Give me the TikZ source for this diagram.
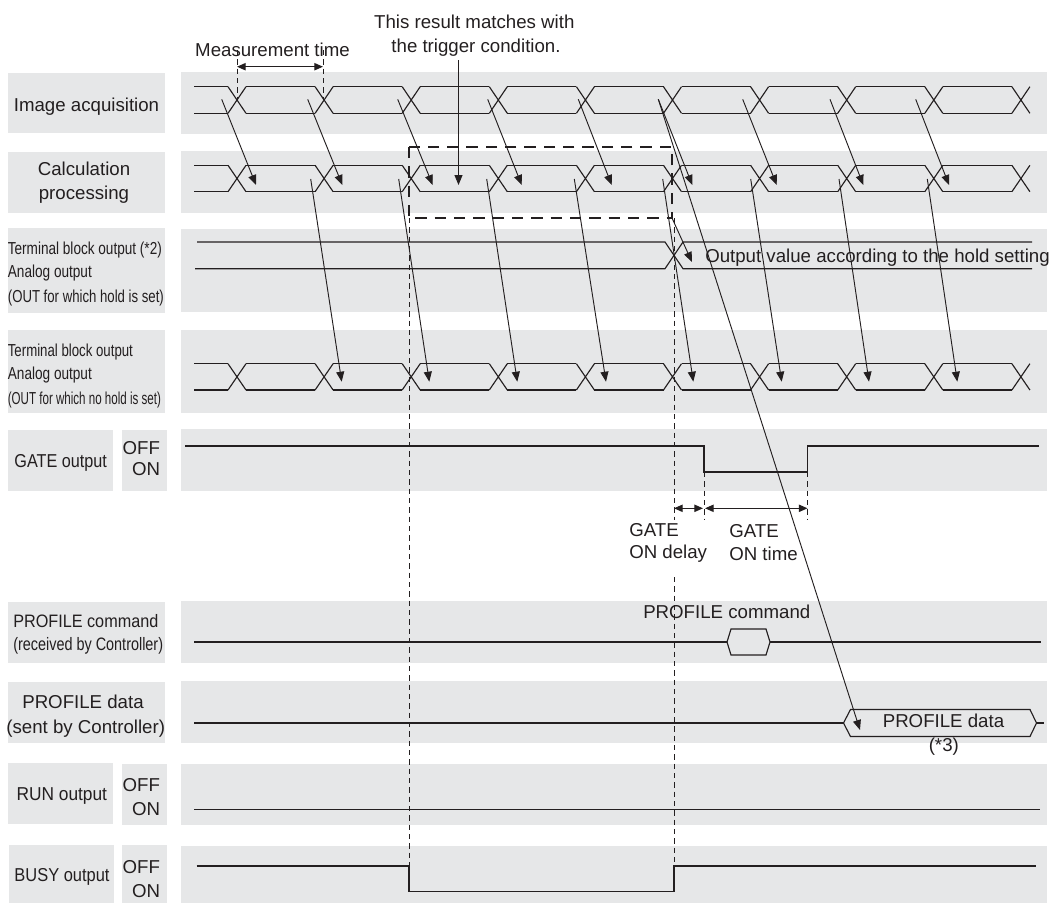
\documentclass[tikz,border=0pt]{standalone}
\usepackage{fontspec}
\setmainfont{Liberation Sans}
\usetikzlibrary{arrows.meta}
\definecolor{bandgray}{RGB}{230,231,232}
\definecolor{ink}{RGB}{35,31,32}
\newcommand{\fitw}[2]{\resizebox{#1}{\height}{#2}}
\newcommand{\xrow}[2]{%
  \draw[sig] (194,#1) -- (228,#1) (194,#2) -- (228,#2);
  \foreach \k in {0,...,9}{%
    \pgfmathsetmacro\cc{237+87.1*\k}
    \draw[sig] (\cc-9,#1) -- (\cc+9,#2) (\cc-9,#2) -- (\cc+9,#1);
  }
  \foreach \k in {0,...,8}{%
    \pgfmathsetmacro\cc{237+87.1*\k}
    \pgfmathsetmacro\cn{237+87.1*(\k+1)}
    \draw[sig] (\cc+9,#1) -- (\cn-9,#1) (\cc+9,#2) -- (\cn-9,#2);
  }}
\begin{document}
\begin{tikzpicture}[x=0.75pt,y=-0.75pt,
  band/.style={fill=bandgray,draw=none},
  sig/.style={draw=ink,line width=0.85pt},
  arr/.style={draw=ink,line width=0.7pt,-{Triangle[length=7.5pt,width=6pt]}},
  darr/.style={draw=ink,line width=0.85pt,{Triangle[length=6.5pt,width=5.5pt]}-{Triangle[length=6.5pt,width=5.5pt]}},
  boxdash/.style={draw=ink,line width=1.4pt,dash pattern=on 8.5pt off 6pt},
  thindash/.style={draw=ink,line width=0.7pt,dash pattern=on 4pt off 3pt},
  txt/.style={font=\fontsize{14pt}{17pt}\selectfont,text=ink,inner sep=0pt},
  midtxt/.style={font=\fontsize{13.5pt}{16pt}\selectfont,text=ink,inner sep=0pt},
  smalltxt/.style={font=\fontsize{13pt}{15pt}\selectfont,text=ink,inner sep=0pt},
]
\useasboundingbox (0,0) rectangle (1056,903);

% ---- label boxes
\fill[band] (7.5,72.7) rectangle (165,132.7);
\fill[band] (7.5,151.7) rectangle (165,212.7);
\fill[band] (7.5,228.3) rectangle (165,312.7);
\fill[band] (7.5,330) rectangle (165,413.3);
\fill[band] (7.5,430) rectangle (113,490.7);
\fill[band] (122.4,430) rectangle (167,490.7);
\fill[band] (7.5,602) rectangle (165,662.7);
\fill[band] (7.5,682) rectangle (165,742.7);
\fill[band] (7.5,763.3) rectangle (113,824);
\fill[band] (122.4,764) rectangle (167,825);
\fill[band] (9,845) rectangle (113.8,903);
\fill[band] (122.4,845) rectangle (167,903);

% ---- signal bands
\fill[band] (181,72) rectangle (1047,134);
\fill[band] (181,150.7) rectangle (1047,212.7);
\fill[band] (181,228.5) rectangle (1047,311.7);
\fill[band] (181,330) rectangle (1047,412.7);
\fill[band] (181,429.3) rectangle (1047,490.7);
\fill[band] (181,601) rectangle (1047,662.7);
\fill[band] (181,681) rectangle (1047,742.7);
\fill[band] (181,764) rectangle (1047,825.3);
\fill[band] (181,846) rectangle (1047,903);

% ---- periodic rows
\xrow{86.7}{113.3}
\xrow{165.3}{191.7}
\xrow{363.7}{390}

% ---- hold row
\draw[sig] (197,242) -- (665,242) -- (683,268.7) -- (1032,268.7);
\draw[sig] (195,268.7) -- (665,268.7) -- (683,242) -- (1032,242);

% ---- GATE, BUSY, RUN
\draw[sig] (185,446) -- (704,446) -- (704,472) -- (807.5,472) -- (807.5,446) -- (1039,446);
\draw[sig] (196.5,866) -- (409,866) -- (409,891.7) -- (674,891.7) -- (674,866) -- (1036,866);
\draw[sig] (194,809.3) -- (1040,809.3);

% ---- PROFILE command
\draw[sig] (194,642) -- (727,642);
\draw[sig] (727,642) -- (731,629) -- (766,629) -- (770,642) -- (766,655) -- (731,655) -- cycle;
\draw[sig] (770,642) -- (1041,642);

% ---- PROFILE data
\draw[sig] (194,723) -- (843.5,723);
\draw[sig] (843.5,723) -- (850.5,709.5) -- (1030,709.5) -- (1036.5,723) -- (1030,736.5) -- (850.5,736.5) -- cycle;
\draw[sig] (1036.5,723) -- (1044,723);

% ---- arrows image -> calculation
\foreach \i/\sx/\tx in {0/221.7/256,1/307.7/342.3,2/397.7/432.7,3/487.7/521.7,4/578.3/611.7,5/658.3/692.3,6/742.7/776.7,7/830/863.3,8/915.7/949}{
  \coordinate (ia\i) at (\sx,99.3);
  \coordinate (cb\i) at (\tx,185);
  \draw[arr] (ia\i) -- (cb\i);
}
% ---- arrows calculation -> output without hold
\foreach \i/\sx/\tx in {1/310.7/341.7,2/398.7/429.3,3/486.7/517.3,4/574.3/606,5/662.7/693.3,6/750.7/781.7,7/839/869,8/927.3/957.3}{
  \coordinate (cs\i) at (\sx,179);
  \coordinate (ot\i) at (\tx,381.7);
  \draw[arr] (cs\i) -- (ot\i);
}
% ---- arrow to hold output and to PROFILE data
\coordinate (boxcorner) at (672,218);
\coordinate (holdtip) at (692,262);
\draw[arr] (boxcorner) -- (holdtip);
\coordinate (pdtip) at (860,730);
\draw[arr] (ia5) -- (pdtip);

% ---- trigger arrow
\coordinate (trigtop) at (458.5,60);
\coordinate (trigtip) at (458.5,185);
\draw[arr] (trigtop) -- (trigtip);

% ---- dashed box and vertical dashed lines
\draw[boxdash] (409,147) rectangle (672,218);
\draw[thindash] (409,218) -- (409,866);
\draw[thindash] (674,218) -- (674,520);
\draw[thindash] (674,577) -- (674,866);

% ---- measurement time
\coordinate (m0a) at (237,50); \coordinate (m0b) at (237,100);
\coordinate (m1a) at (323,50); \coordinate (m1b) at (323,100);
\draw[thindash] (m0a) -- (m0b);
\draw[thindash] (m1a) -- (m1b);
\coordinate (ma) at (237,66.7); \coordinate (mb) at (323,66.7);
\draw[darr] (ma) -- (mb);

% ---- GATE timing
\coordinate (g1) at (704,472); \coordinate (g1b) at (704,520);
\coordinate (g2) at (807.5,472); \coordinate (g2b) at (807.5,520);
\draw[thindash] (g1) -- (g1b);
\draw[thindash] (g2) -- (g2b);
\coordinate (da) at (674,508.3); \coordinate (db) at (703,508.3);
\coordinate (ta) at (705,508.3); \coordinate (tb) at (807.5,508.3);
\draw[darr] (da) -- (db);
\draw[darr] (ta) -- (tb);

% ---- labels
\node[txt,anchor=base] (lImg) at (86.5,111) {Image acquisition};
\node[txt,anchor=base] (lCalc1) at (84,175.5) {Calculation};
\node[txt,anchor=base] (lCalc2) at (84,199.5) {processing};
\node[smalltxt,anchor=base west] (lT1a) at (7.6,254.3) {\fitw{115.5pt}{Terminal block output (*2)}};
\node[smalltxt,anchor=base west] (lT1b) at (7.6,277.7) {\fitw{63pt}{Analog output}};
\node[smalltxt,anchor=base west] (lT1c) at (7.6,302) {\fitw{117pt}{(OUT for which hold is set)}};
\node[smalltxt,anchor=base west] (lT2a) at (7.6,356) {\fitw{93.8pt}{Terminal block output}};
\node[smalltxt,anchor=base west] (lT2b) at (7.6,379.3) {\fitw{63pt}{Analog output}};
\node[smalltxt,anchor=base west] (lT2c) at (7.6,404.3) {\fitw{114.8pt}{(OUT for which no hold is set)}};
\node[txt,anchor=base] (lGate) at (60.7,467.4) {\fitw{69.4pt}{GATE output}};
\node[txt,anchor=base east] (gOff) at (160.3,454.4) {OFF};
\node[txt,anchor=base east] (gOn) at (160.3,475) {ON};
\node[midtxt,anchor=base west] (lPc1) at (13,627.4) {\fitw{108.8pt}{PROFILE command}};
\node[midtxt,anchor=base west] (lPc2) at (13,650.7) {\fitw{112.4pt}{(received by Controller)}};
\node[txt,anchor=base] (lPd1) at (83,708.4) {PROFILE data};
\node[txt,anchor=base] (lPd2) at (85.7,733.4) {(sent by Controller)};
\node[txt,anchor=base] (lRun) at (61.8,800) {\fitw{67.9pt}{RUN output}};
\node[txt,anchor=base east] (rOff) at (160.3,791.7) {OFF};
\node[txt,anchor=base east] (rOn) at (160.3,815) {ON};
\node[txt,anchor=base] (lBusy) at (62,881) {\fitw{71.3pt}{BUSY output}};
\node[txt,anchor=base east] (bOff) at (160.3,873.4) {OFF};
\node[txt,anchor=base east] (bOn) at (160.3,897.4) {ON};

% ---- annotations
\node[txt,anchor=base] (tMeas) at (272.5,56) {Measurement time};
\node[txt,anchor=base] (tTrig1) at (474.3,28) {This result matches with};
\node[txt,anchor=base] (tTrig2) at (476,52) {the trigger condition.};
\node[txt,anchor=base west] (tHold) at (705,262.5) {Output value according to the hold setting};
\node[txt,anchor=base west] (tGd1) at (629,536) {GATE};
\node[txt,anchor=base west] (tGd2) at (629,558.7) {ON delay};
\node[txt,anchor=base west] (tGt1) at (729,537.7) {GATE};
\node[txt,anchor=base west] (tGt2) at (729,560) {ON time};
\node[txt,anchor=base west] (tPc) at (643,618.7) {PROFILE command};
\node[txt,anchor=base] (tPd) at (943.5,727.4) {PROFILE data};
\node[txt] (tP3) at (943.8,746.7) {(*3)};
\end{tikzpicture}
\end{document}
